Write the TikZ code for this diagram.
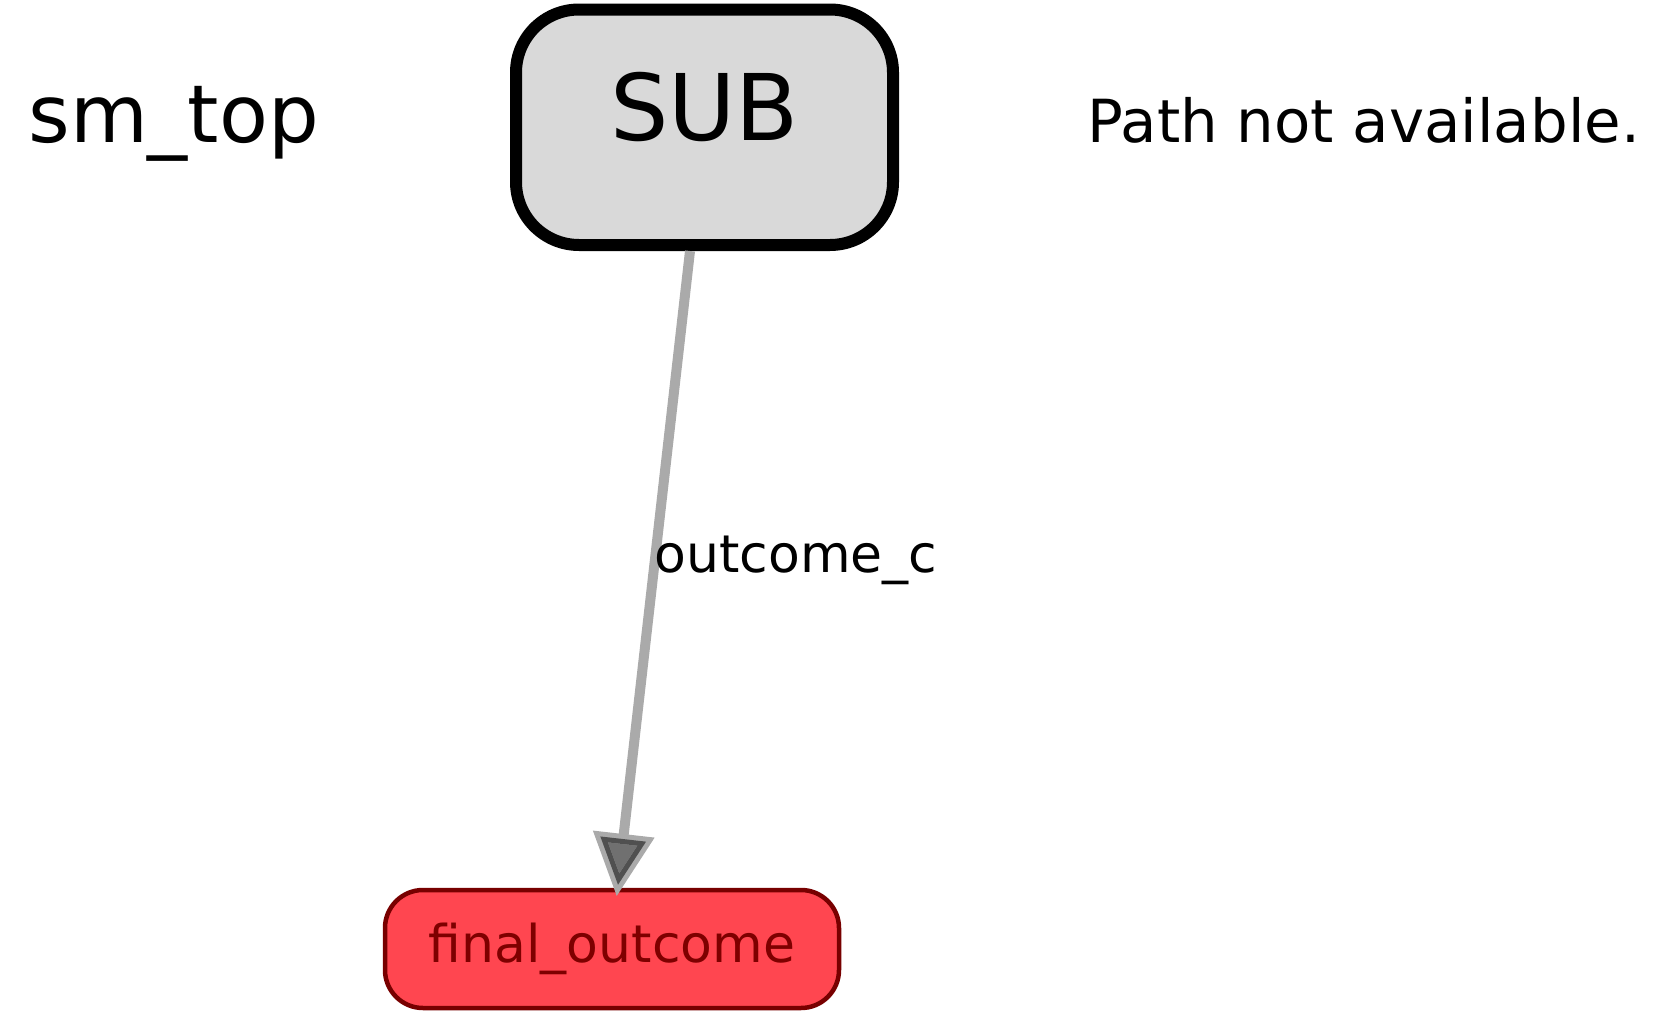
\documentclass[tikz,border=0pt]{standalone}
\usepackage{fontspec}
\setmainfont{DejaVu Sans}
\usetikzlibrary{calc}
\definecolor{subfill}{HTML}{D9D9D9}
\definecolor{finfill}{HTML}{FF4650}
\definecolor{findraw}{HTML}{780000}
\definecolor{fintext}{HTML}{7E0000}
\definecolor{edgegray}{HTML}{AAAAAA}
\definecolor{tipfill}{HTML}{707070}
\definecolor{tipdark}{HTML}{505050}
\tikzset{
  title/.style={anchor=base west, inner sep=0pt, font=\fontsize{40pt}{48pt}\selectfont},
  note/.style={anchor=base west, inner sep=0pt, font=\fontsize{29.7pt}{36pt}\selectfont},
  subbox/.style={draw=black, fill=subfill, line width=6pt, rounded corners=31.5pt,
    minimum width=188.5pt, minimum height=117.75pt, inner sep=0pt,
    text height=33.5pt, text depth=20.5pt, font=\fontsize{46pt}{55pt}\selectfont},
  finbox/.style={draw=findraw, fill=finfill, line width=2.25pt, rounded corners=19pt,
    minimum width=227pt, minimum height=59pt, inner sep=0pt, text=fintext,
    text height=19.5pt, text depth=6.5pt, font=\fontsize{26pt}{31pt}\selectfont},
  elabel/.style={anchor=base west, inner sep=0pt, font=\fontsize{26pt}{31pt}\selectfont},
  edgeline/.style={draw=edgegray, line width=5pt},
}
\begin{document}
\begin{tikzpicture}[x=0.5pt, y=-0.5pt]
\useasboundingbox (0,0) rectangle (1656,1028);
\node[title] (title) at (28,142) {sm\_top};
\node[note] (note) at (1087,142) {Path not available.};
\node[subbox] (SUB) at (704.5,127.25) {SUB};
\node[finbox] (final) at (612,949) {final\_outcome};
\coordinate (e1) at ($(SUB.south)+(-14.5,0)$);
\coordinate (tip) at ($(final.north)+(6,-3)$);
\coordinate (base) at ($(tip)!23pt!(e1)$);
\coordinate (c1) at ($(base)!11.5pt!90:(tip)$);
\coordinate (c2) at ($(base)!11.5pt!-90:(tip)$);
\draw[edgeline] (e1) -- (base);
\node[elabel] (lab) at (654,572) {outcome\_c};
\filldraw[fill=tipfill, draw=edgegray, line width=5pt, line join=miter] (tip) -- (c1) -- (c2) -- cycle;
\begin{scope}
  \clip (tip) -- (c1) -- (c2) -- cycle;
  \draw[tipdark, line width=5pt, line join=miter] (tip) -- (c1) -- (c2) -- cycle;
\end{scope}
\end{tikzpicture}
\end{document}
